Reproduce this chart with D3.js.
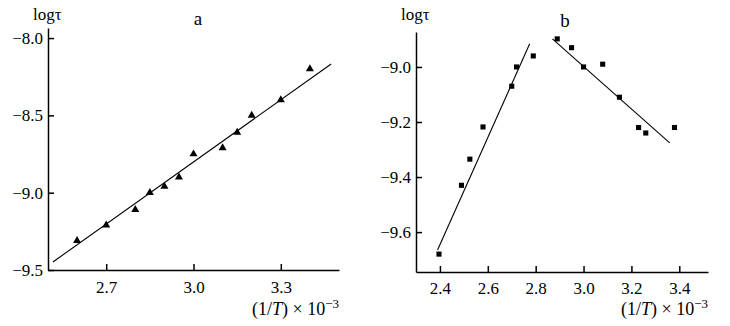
<!DOCTYPE html>
<html>
<head>
<meta charset="utf-8">
<script src="https://cdn.jsdelivr.net/npm/d3@7"></script>
<style>
  body { margin: 0; background: #fff; }
  svg text { font-family: "Liberation Serif", "Times New Roman", serif; fill: #000; }
</style>
</head>
<body>
<div id="chart"></div>
<script>
// panel a: triangles + fitted line
const aX = [2.6, 2.7, 2.8, 2.85, 2.9, 2.95, 3.0, 3.1, 3.15, 3.2, 3.3, 3.4];
const aY = [-9.31, -9.21, -9.11, -9.0, -8.96, -8.9, -8.75, -8.71, -8.61, -8.5, -8.4, -8.2];
const aFitX = [2.517, 3.473];
const aFitY = [-9.448, -8.168];
const aXTicks = [2.7, 3.0, 3.3];
const aYTicks = [-9.5, -9.0, -8.5, -8.0];

// panel b: two branches
const bX = [2.396, 2.49, 2.525, 2.58, 2.70, 2.72, 2.79, 2.89, 2.95, 3.0, 3.08, 3.15, 3.23, 3.26, 3.38];
const bY = [-9.68, -9.43, -9.335, -9.218, -9.07, -9.0, -8.96, -8.898, -8.93, -9.0, -8.99, -9.11, -9.22, -9.24, -9.22];
const bFit1X = [2.39, 2.775];
const bFit1Y = [-9.665, -8.916];
const bFit2X = [2.87, 3.36];
const bFit2Y = [-8.898, -9.276];
const bXTicks = [2.4, 2.6, 2.8, 3.0, 3.2, 3.4];
const bYTicks = [-9.6, -9.4, -9.2, -9.0];

const width = 730, height = 326;
const serif = '"Liberation Serif", "Times New Roman", serif';

const svg = d3.select("#chart").append("svg")
  .attr("width", width)
  .attr("height", height);

const fmt = d3.format(".1f");

function panel(opt) {
  const g = svg.append("g");
  const x = d3.scaleLinear().domain(opt.xDomain).range(opt.xRange);
  const y = d3.scaleLinear().domain(opt.yDomain).range(opt.yRange);

  // axes with ticks pointing inward
  const gx = g.append("g")
    .attr("transform", `translate(0,${opt.yRange[0]})`)
    .call(d3.axisBottom(x).tickValues(opt.xTicks).tickFormat(fmt).tickSizeInner(-6).tickSizeOuter(0).tickPadding(opt.xPad));
  const gy = g.append("g")
    .attr("transform", `translate(${opt.xRange[0]},0)`)
    .call(d3.axisLeft(y).tickValues(opt.yTicks).tickFormat(fmt).tickSizeInner(-6).tickSizeOuter(0).tickPadding(5));
  [gx, gy].forEach(a => {
    a.selectAll("path, line").attr("stroke", "#000").attr("stroke-width", 1.5);
    a.selectAll("text")
      .style("font-family", serif)
      .style("font-size", "17px");
  });

  const line = d3.line().x(d => x(d[0])).y(d => y(d[1]));
  opt.fits.forEach(f => {
    g.append("path")
      .datum(d3.zip(f[0], f[1]))
      .attr("d", line)
      .attr("fill", "none")
      .attr("stroke", "#000")
      .attr("stroke-width", 1.1);
  });

  g.selectAll("path.pt")
    .data(d3.zip(opt.px, opt.py))
    .join("path")
    .attr("class", "pt")
    .attr("transform", d => `translate(${x(d[0])},${y(d[1])})`)
    .attr("d", d3.symbol().type(opt.symbol).size(opt.symbolSize))
    .attr("fill", "#000");

  // labels
  g.append("text")
    .attr("x", opt.xRange[0] - 15).attr("y", 20)
    .style("font-size", "17px")
    .text("logτ");
  g.append("text")
    .attr("x", opt.tag[0]).attr("y", opt.tag[1])
    .attr("text-anchor", "middle")
    .style("font-size", "19px")
    .text(opt.tag[2]);
  const lab = g.append("text")
    .attr("x", opt.xRange[1]).attr("y", 315)
    .attr("text-anchor", "end")
    .style("font-size", "18px");
  lab.append("tspan").text("(1/");
  lab.append("tspan").style("font-style", "italic").text("T");
  lab.append("tspan").text(") × 10");
  lab.append("tspan").attr("dy", -7).style("font-size", "13px").text("−3");
}

panel({
  xDomain: [2.5, 3.5], xRange: [48, 339],
  yDomain: [-9.5, -7.935], yRange: [270, 28],
  xTicks: aXTicks, yTicks: aYTicks, xPad: 11,
  px: aX, py: aY,
  fits: [[aFitX, aFitY]],
  symbol: d3.symbolTriangle, symbolSize: 28,
  tag: [198, 25, "a"]
});

panel({
  xDomain: [2.3, 3.52], xRange: [416, 708],
  yDomain: [-9.745, -8.873], yRange: [272, 32],
  xTicks: bXTicks, yTicks: bYTicks, xPad: 10,
  px: bX, py: bY,
  fits: [[bFit1X, bFit1Y], [bFit2X, bFit2Y]],
  symbol: d3.symbolSquare, symbolSize: 26,
  tag: [565, 27, "b"]
});
</script>
</body>
</html>
